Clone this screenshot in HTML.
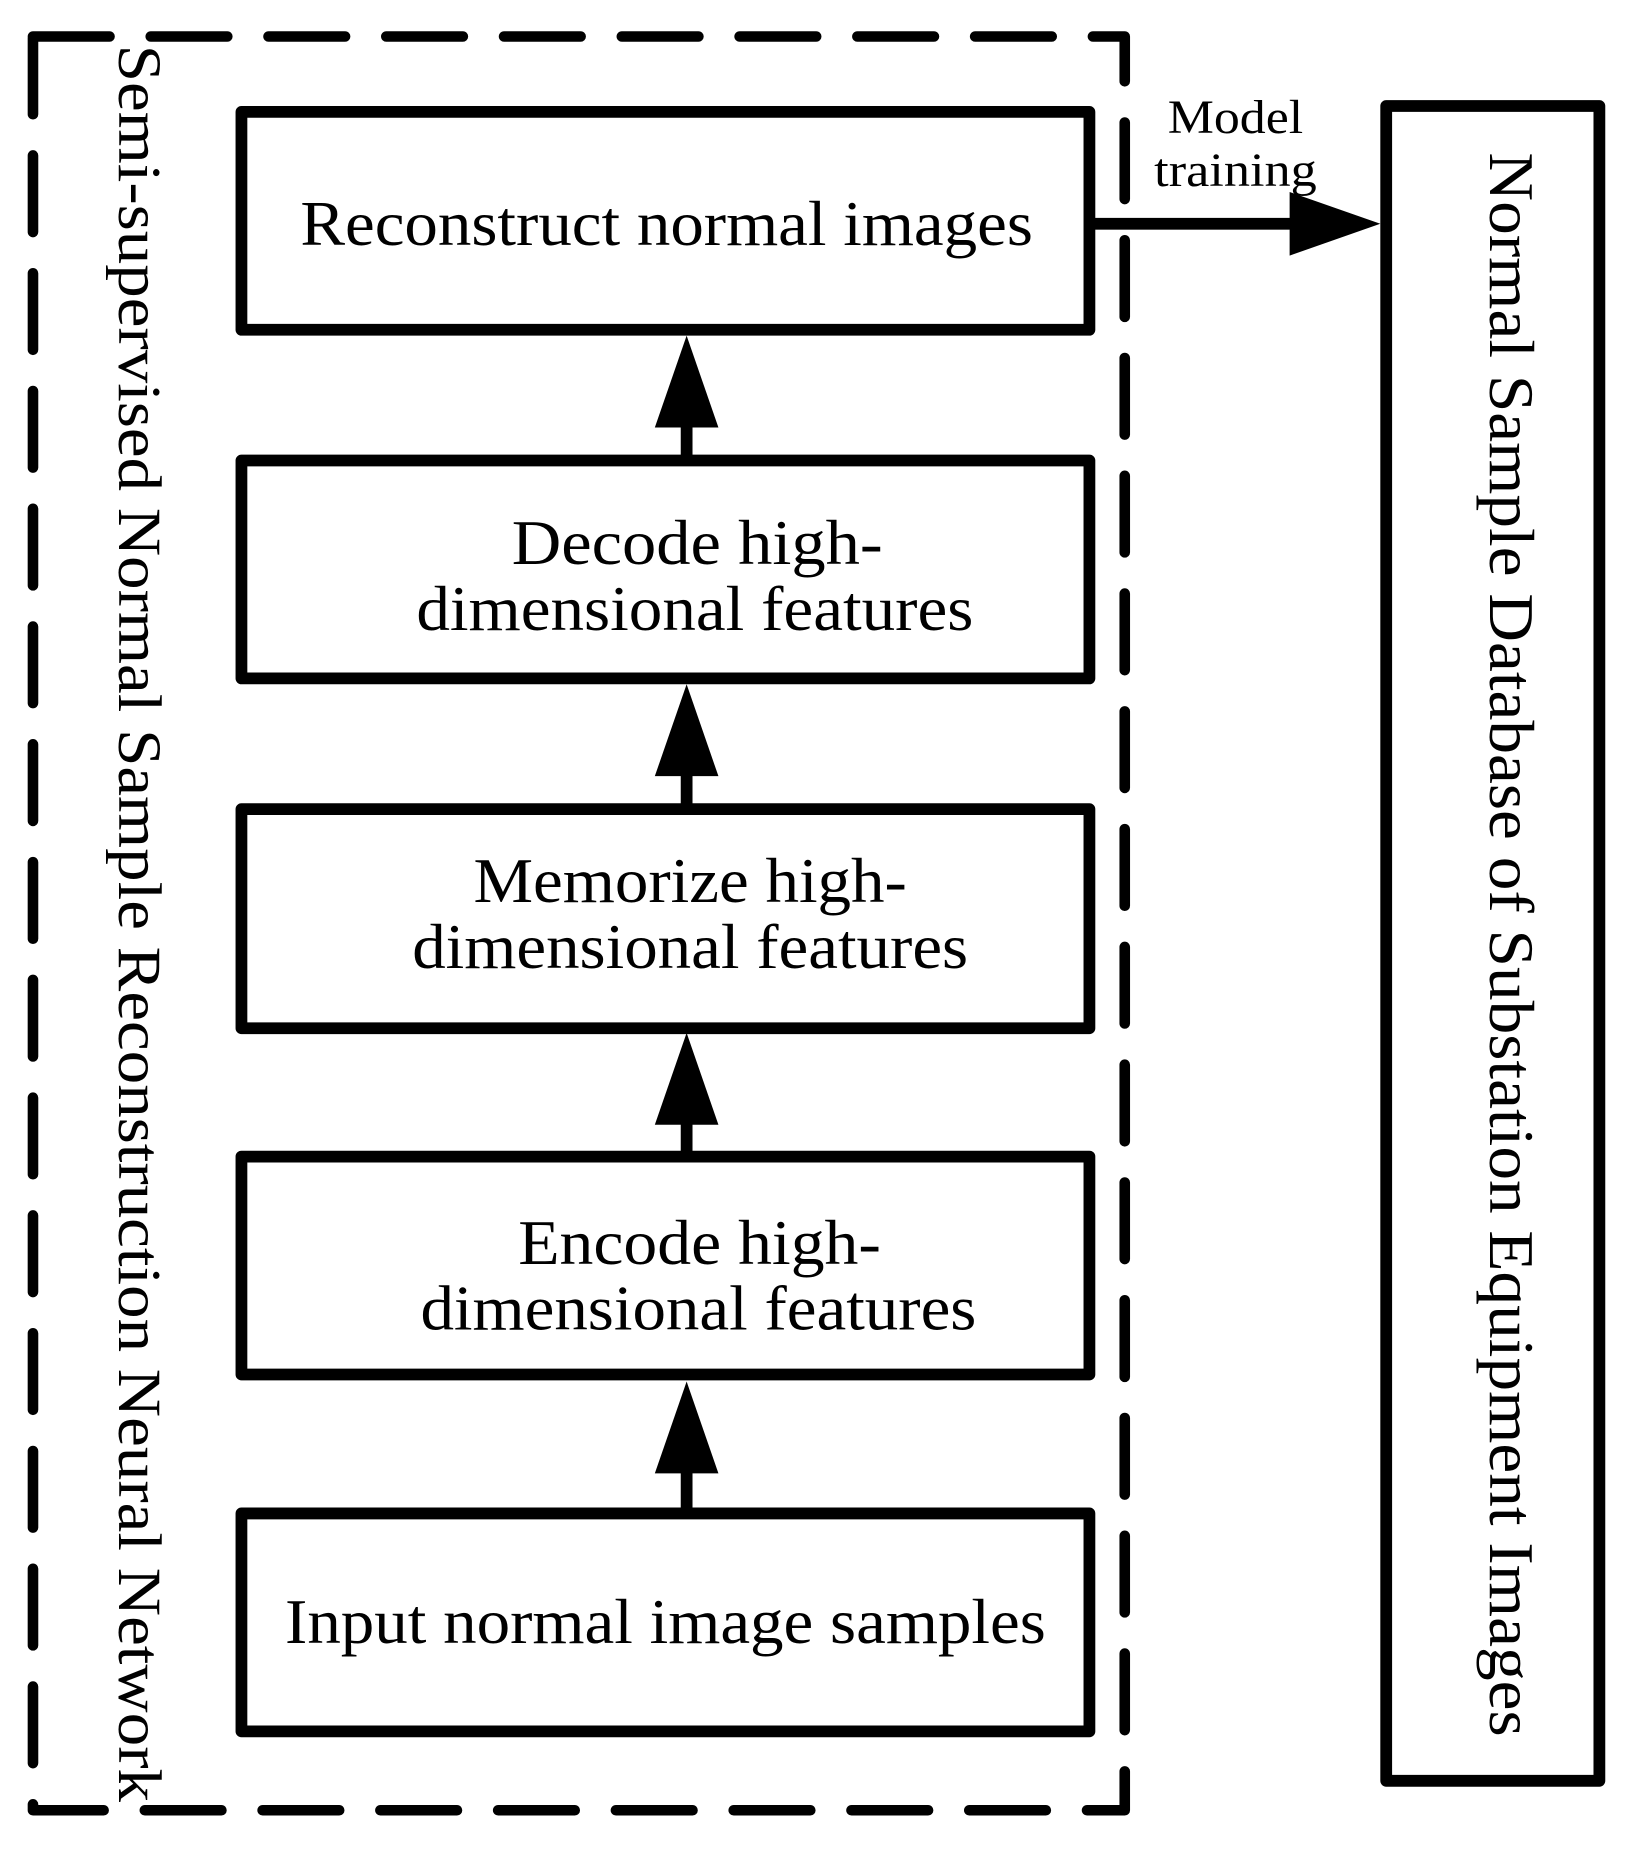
<!DOCTYPE html>
<html><head><meta charset="utf-8"><style>
html,body{margin:0;padding:0;background:#fff;}
svg{display:block;}
text{font-family:"Liberation Serif",serif;fill:#000;}
</style></head><body>
<svg width="1630" height="1851" viewBox="0 0 1384 1571.6" preserveAspectRatio="none" xmlns="http://www.w3.org/2000/svg">
<rect x="28" y="31" width="927" height="1506" fill="none" stroke="#000" stroke-width="9" stroke-dasharray="65 35" stroke-linecap="round" stroke-linejoin="round"/>
<g fill="none" stroke="#000" stroke-width="10" stroke-linejoin="round">
<rect x="205" y="95" width="720" height="185"/>
<rect x="205" y="391" width="720" height="185"/>
<rect x="205" y="687" width="720" height="186"/>
<rect x="205" y="982" width="720" height="185"/>
<rect x="205" y="1285" width="720" height="185"/>
<rect x="1177" y="90" width="181" height="1422"/>
</g>
<g fill="#000">
<rect x="578" y="360" width="10" height="32"/><polygon points="583,285 556,363 610,363"/>
<rect x="578" y="656" width="10" height="32"/><polygon points="583,581 556,659 610,659"/>
<rect x="578" y="952" width="10" height="32"/><polygon points="583,877 556,955 610,955"/>
<rect x="578" y="1248" width="10" height="38"/><polygon points="583,1173 556,1251 610,1251"/>
<rect x="925" y="185" width="175" height="10"/><polygon points="1172,190 1095,163 1095,217"/>
</g>
<g font-size="54" text-anchor="middle" lengthAdjust="spacingAndGlyphs">
<text x="566" y="208" textLength="622" lengthAdjust="spacingAndGlyphs">Reconstruct normal images</text>
<text x="592" y="479" textLength="315" lengthAdjust="spacingAndGlyphs">Decode high-</text>
<text x="590" y="535" textLength="473" lengthAdjust="spacingAndGlyphs">dimensional features</text>
<text x="586" y="766" textLength="368" lengthAdjust="spacingAndGlyphs">Memorize high-</text>
<text x="586" y="822" textLength="472" lengthAdjust="spacingAndGlyphs">dimensional features</text>
<text x="594" y="1073" textLength="308" lengthAdjust="spacingAndGlyphs">Encode high-</text>
<text x="593" y="1129" textLength="472" lengthAdjust="spacingAndGlyphs">dimensional features</text>
<text x="565" y="1395" textLength="646" lengthAdjust="spacingAndGlyphs">Input normal image samples</text>
</g>
<g font-size="40" text-anchor="middle">
<text x="1049" y="113" textLength="115" lengthAdjust="spacingAndGlyphs">Model</text>
<text x="1049" y="158" textLength="138" lengthAdjust="spacingAndGlyphs">training</text>
</g>
<text font-size="52" text-anchor="middle" textLength="1492" lengthAdjust="spacingAndGlyphs" transform="translate(101,784) rotate(90)">Semi-supervised Normal Sample Reconstruction Neural Network</text>
<text font-size="54" text-anchor="middle" textLength="1345" lengthAdjust="spacingAndGlyphs" transform="translate(1265,802) rotate(90)">Normal Sample Database of Substation Equipment Images</text>
</svg>
</body></html>
